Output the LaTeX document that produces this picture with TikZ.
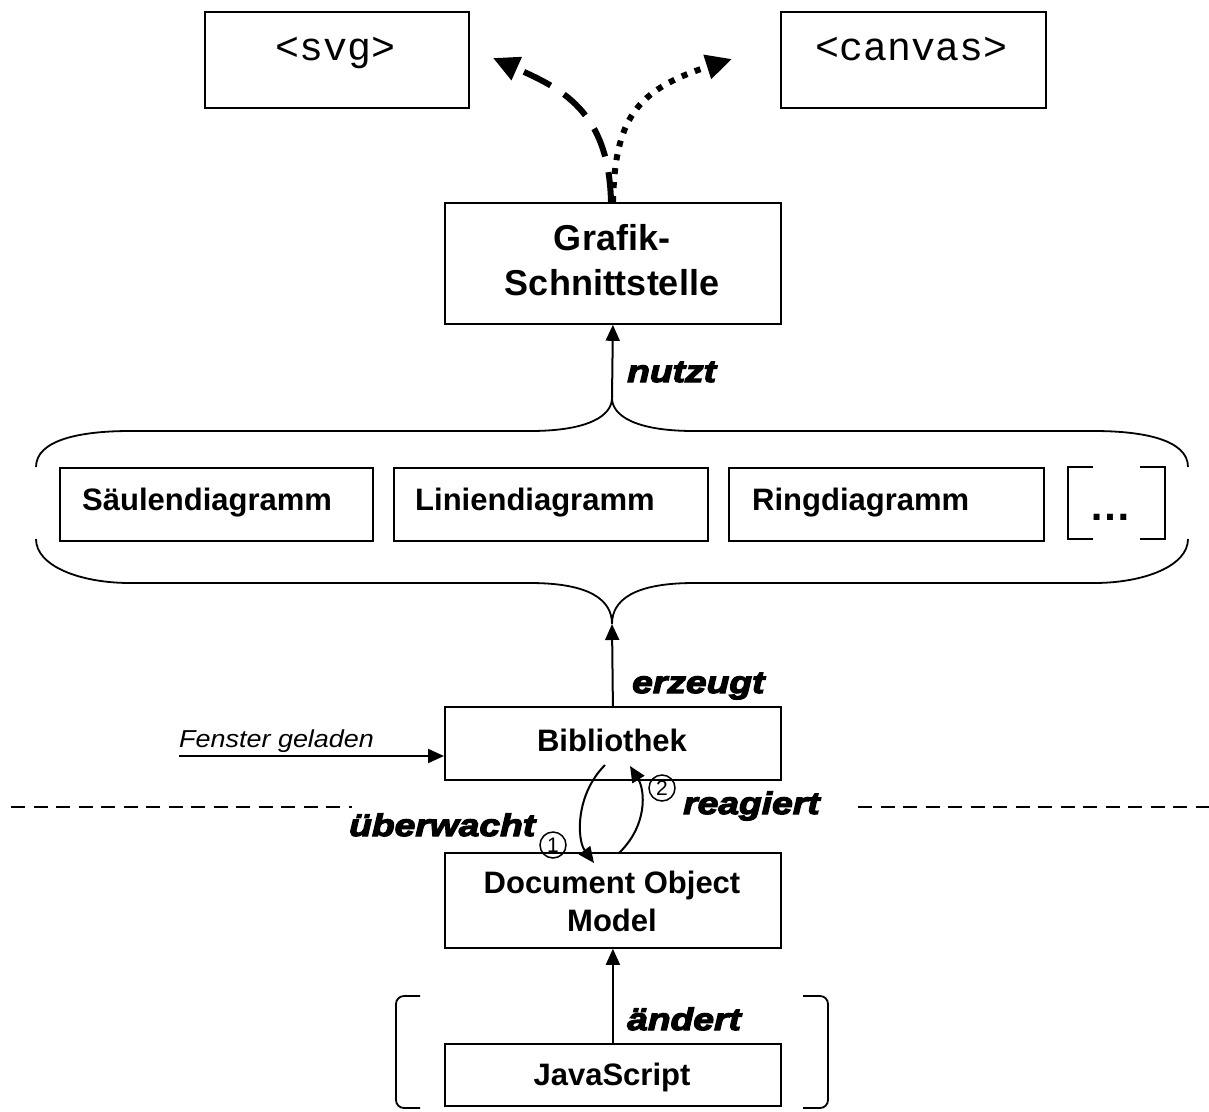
\documentclass[tikz,border=0pt]{standalone}
\usepackage{fontspec}
\setmainfont{Liberation Sans}
\usetikzlibrary{arrows.meta,calc}
\newfontface\labfont{Liberation Sans Bold Italic}[FakeBold=4,FakeStretch=1.2]
\newfontface\monofnt{Liberation Mono}
\newfontface\boldfnt{Liberation Sans Bold}
\newfontface\itfnt{Liberation Sans Italic}[FakeStretch=1.1]
\newfontface\regfnt{Liberation Sans}
\tikzset{
  frame/.style={draw, line width=1.8pt, inner sep=0pt, anchor=north west},
  btext/.style={inner sep=0pt, font=\boldfnt\fontsize{31}{38}\selectfont},
  gtext/.style={inner sep=0pt, font=\boldfnt\fontsize{36}{45}\selectfont},
  mtext/.style={inner sep=0pt, font=\monofnt\fontsize{40}{44}\selectfont},
  lab/.style={inner sep=0pt, anchor=base west, font=\labfont\fontsize{31}{35}\selectfont},
  conn/.style={line width=2pt, -{Triangle[length=16pt,width=14pt]}},
  bigtip/.style={-{Triangle[length=26pt,width=24pt]}},
  thinline/.style={line width=1.8pt},
  num/.style={circle, draw, line width=1.5pt, minimum size=26pt, inner sep=0pt, font=\regfnt\fontsize{21}{24}\selectfont}
}
\begin{document}
\begin{tikzpicture}[x=1pt,y=-1pt]
\useasboundingbox (0,0) rectangle (1209,1111);
% boxes
\node[frame, minimum width=264pt, minimum height=96pt] (svg) at (204,11) {};
\node[mtext, anchor=base] (tsvg) at (336,60) {<svg>};
\node[frame, minimum width=265pt, minimum height=96pt] (cvs) at (780,11) {};
\node[mtext, anchor=base] (tcvs) at (912,60) {<canvas>};
\node[frame, minimum width=336pt, minimum height=121pt] (gs) at (444,202) {};
\node[gtext, anchor=base] (tgs1) at (612,250) {Grafik-};
\node[gtext, anchor=base] (tgs2) at (612,295) {Schnittstelle};
\node[frame, minimum width=313pt, minimum height=73pt] (sd) at (59,467) {};
\node[btext, anchor=base west] (tsd) at (82,510) {Säulendiagramm};
\node[frame, minimum width=314pt, minimum height=73pt] (ld) at (393,467) {};
\node[btext, anchor=base west] (tld) at (415,510) {Liniendiagramm};
\node[frame, minimum width=315pt, minimum height=73pt] (rd) at (728,467) {};
\node[btext, anchor=base west] (trd) at (752,510) {Ringdiagramm};
\node[inner sep=0pt, anchor=base, font=\boldfnt\fontsize{42}{44}\selectfont] (tdots) at (1110,520) {…};
\draw[thinline] (1093,467) -- (1068,467) -- (1068,539) -- (1093,539);
\draw[thinline] (1140,467) -- (1165,467) -- (1165,539) -- (1140,539);
\node[frame, minimum width=336pt, minimum height=73pt] (bib) at (444,706) {};
\node[btext, anchor=base] (tbib) at (612,751) {Bibliothek};
\node[frame, minimum width=336pt, minimum height=95pt] (dom) at (444,852) {};
\node[btext, anchor=base] (tdom1) at (612,893) {Document Object};
\node[btext, anchor=base] (tdom2) at (612,931) {Model};
\node[frame, minimum width=336pt, minimum height=62pt] (js) at (444,1043) {};
\node[btext, anchor=base] (tjs) at (612,1085) {JavaScript};
% braces
\coordinate (tbr) at (612,398);
\coordinate (bbr) at (612,624);
\draw[thinline] (36,467) .. controls (36,440) and (80,431) .. (130,431) -- (530,431)
  .. controls (590,431) and (612,415) .. (tbr)
  .. controls (612,415) and (634,431) .. (694,431) -- (1094,431)
  .. controls (1144,431) and (1188,440) .. (1188,467);
\draw[thinline] (36,539) .. controls (36,566) and (80,583) .. (130,583) -- (530,583)
  .. controls (590,583) and (612,600) .. (bbr)
  .. controls (612,600) and (634,583) .. (694,583) -- (1094,583)
  .. controls (1144,583) and (1188,566) .. (1188,539);
% JS brackets
\draw[thinline, rounded corners=8pt] (420,996) -- (396,996) -- (396,1108) -- (420,1108);
\draw[thinline, rounded corners=8pt] (803,996) -- (828,996) -- (828,1108) -- (803,1108);
% connectors
\draw[conn] (tbr) -- (gs.south);
\draw[conn] (bib.north) -- (bbr);
\draw[conn] (js.north) -- (dom.south);
\coordinate (fg) at (179,756);
\draw[conn] (fg) -- (bib.west |- fg);
\node[inner sep=0pt, anchor=base west, font=\itfnt\fontsize{24.5}{28}\selectfont] (tfg) at (179,747) {Fenster geladen};
% svg / canvas arrows
\coordinate (s0) at (611,202);
\coordinate (s1) at (613,202);
\coordinate (svgtip) at (493,58);
\coordinate (cvstip) at (732,59);
\draw[line width=6pt, dash pattern=on 30pt off 16pt, bigtip] (s0) .. controls (609,110) and (560,88) .. (svgtip);
\draw[line width=6pt, dash pattern=on 6pt off 8pt, bigtip] (s1) .. controls (615,120) and (635,90) .. (cvstip);
% monitor loop
\coordinate (u0) at (605,765);
\coordinate (u1) at (594,863);
\coordinate (r0) at (619,853);
\coordinate (r1) at (630,766);
\draw[conn] (u0) .. controls (575,795) and (577,840) .. (u1);
\draw[conn] (r0) .. controls (648,825) and (645,790) .. (r1);
\node[num] (c1) at (553,845) {1};
\node[num] (c2) at (662,788) {2};
% dashed separator
\coordinate (dl1) at (11,807);
\coordinate (dl2) at (352,807);
\coordinate (dr1) at (858,807);
\coordinate (dr2) at (1209,807);
\draw[line width=1.6pt, dash pattern=on 14pt off 8.5pt] (dl1) -- (dl2);
\draw[line width=1.6pt, dash pattern=on 14pt off 8.5pt] (dr1) -- (dr2);
% labels
\node[lab] (lnutzt) at (627,382) {nutzt};
\node[lab] (lerz) at (632,693) {erzeugt};
\node[lab] (lrea) at (683,814) {reagiert};
\node[lab] (lueb) at (349,836) {überwacht};
\node[lab] (land) at (627,1030) {ändert};
\end{tikzpicture}
\end{document}
